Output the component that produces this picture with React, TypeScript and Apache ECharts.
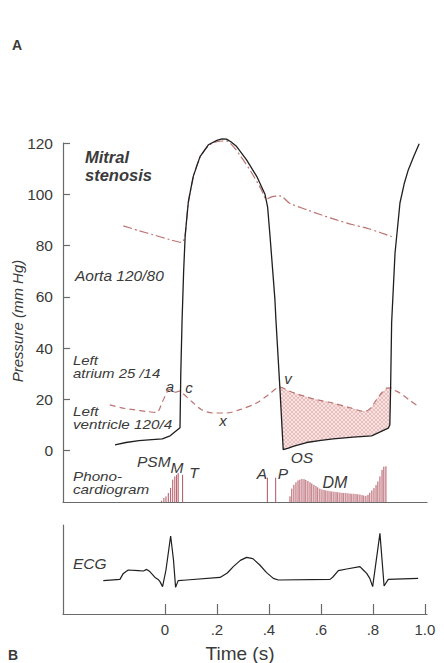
import React, { useEffect, useRef } from 'react';
import * as echarts from 'echarts';

// ---------- data (time in s, pressure in mm Hg) ----------
const pressureTicks = [0, 20, 40, 60, 80, 100, 120];
const timeTicks = [0, 0.2, 0.4, 0.6, 0.8, 1.0];
const timeTickLabels = ['0', '.2', '.4', '.6', '.8', '1.0'];

const lvPressure: number[][] = [
  [-0.192, 2.3], [-0.15, 3.2], [-0.1, 3.9], [-0.05, 4.3], [-0.01, 4.6], [0.02, 5.8], [0.045, 7.9],
  [0.058, 9], [0.061, 30], [0.066, 51], [0.072, 70], [0.078, 84], [0.09, 97], [0.109, 107],
  [0.135, 114.7], [0.167, 119.3], [0.2, 121], [0.22, 121.6], [0.237, 121.5], [0.255, 120.4],
  [0.276, 118.6], [0.314, 113.4], [0.353, 107], [0.385, 100], [0.395, 95], [0.404, 84],
  [0.417, 67], [0.423, 59], [0.427, 51], [0.442, 24.8], [0.455, 0.4], [0.475, 1.0], [0.493, 1.7],
  [0.545, 3.2], [0.6, 4], [0.647, 4.6], [0.724, 5.3], [0.795, 5.8], [0.859, 8.8], [0.865, 10],
  [0.868, 24], [0.872, 50], [0.885, 77], [0.904, 96.6], [0.92, 104], [0.936, 109.5], [0.958, 115],
  [0.978, 119.7],
];

const laPressure: number[][] = [
  [-0.212, 17.9], [-0.17, 16.8], [-0.122, 16], [-0.07, 15.3], [-0.032, 14.9], [-0.01, 19],
  [0.01, 23.2], [0.022, 24], [0.04, 22.8], [0.055, 23.2], [0.07, 22.2], [0.103, 19.2],
  [0.141, 16], [0.186, 14.7], [0.237, 14.7], [0.288, 16], [0.353, 18.6], [0.4, 22], [0.442, 24.8],
  [0.48, 23.2], [0.519, 21.8], [0.58, 20], [0.647, 18.6], [0.71, 16.8], [0.769, 15.3],
  [0.79, 16.5], [0.814, 19.9], [0.835, 22.7], [0.853, 24.4], [0.868, 24.5], [0.885, 23.5],
  [0.904, 22.5], [0.94, 19.8], [0.974, 17.3],
];

const aortaPressure: number[][] = [
  [-0.16, 87.7], [-0.1, 85.8], [-0.045, 84.2], [0.02, 82.3], [0.066, 81.2], [0.072, 82],
  [0.078, 84], [0.09, 96.5], [0.109, 106.6], [0.135, 114.3], [0.167, 118.9], [0.2, 120.5],
  [0.237, 120.8], [0.26, 119], [0.29, 115], [0.33, 109], [0.37, 102], [0.391, 98.1], [0.41, 99],
  [0.442, 99.4], [0.48, 96.5], [0.545, 94], [0.6, 92], [0.66, 90], [0.72, 88.2], [0.776, 86.8],
  [0.83, 85], [0.872, 83.5],
];

// phonocardiogram spikes: [time, top] (baseline at -20)
const phonoBaseline = -20;
const phonoPSM: number[][] = [
  [-0.013, -19.5], [-0.004, -18.4], [0.004, -17.8], [0.013, -16.5], [0.022, -14.5],
  [0.03, -11.3], [0.038, -10], [0.045, -9.4], [0.051, -8.7], [0.068, -9.4],
];
const phonoValves: number[][] = [[0.394, -10.5], [0.426, -10.5]];
const phonoDM: number[][] = [
  [0.481, -17.8], [0.488, -14.8], [0.496, -13.3], [0.504, -12.3], [0.512, -11.6], [0.519, -11.3],
  [0.527, -11.0], [0.535, -11.1], [0.542, -11.4], [0.55, -11.8], [0.558, -12.3], [0.565, -12.8],
  [0.573, -13.3], [0.581, -13.8], [0.588, -14.3], [0.596, -14.8], [0.604, -15.1], [0.612, -15.3],
  [0.619, -15.5], [0.627, -15.6], [0.635, -15.8], [0.642, -15.9], [0.65, -16.0], [0.658, -16.1],
  [0.665, -16.2], [0.673, -16.3], [0.681, -16.4], [0.688, -16.5], [0.696, -16.5], [0.704, -16.6],
  [0.712, -16.7], [0.719, -16.8], [0.727, -16.8], [0.735, -16.9], [0.742, -17.0], [0.75, -17.1],
  [0.758, -17.3], [0.765, -17.5], [0.773, -17.6], [0.781, -17.2], [0.788, -16.4], [0.796, -15.5],
  [0.804, -14.6], [0.812, -13.4], [0.819, -12.0], [0.827, -10.0], [0.835, -7.5], [0.842, -6.2],
  [0.85, -6.1],
];

// ECG (arbitrary units)
const ecgTrace: number[][] = [
  [-0.237, -0.03], [-0.173, 0.03], [-0.16, 0.33], [-0.141, 0.5], [-0.103, 0.47], [-0.083, 0.45],
  [-0.07, 0.53], [-0.058, 0.42], [-0.038, 0.13], [-0.026, 0.03], [-0.019, -0.08], [-0.009, -0.33],
  [0.004, 0.5], [0.022, 2.2], [0.033, 1.0], [0.041, -0.37], [0.051, -0.03], [0.083, 0],
  [0.212, 0.13], [0.24, 0.35], [0.263, 0.67], [0.29, 0.98], [0.314, 1.13], [0.338, 1.07],
  [0.365, 0.75], [0.39, 0.38], [0.417, 0.08], [0.436, 0], [0.635, 0.03], [0.646, 0.15],
  [0.667, 0.47], [0.699, 0.55], [0.75, 0.67], [0.763, 0.5], [0.776, 0.33], [0.788, 0.08],
  [0.799, -0.33], [0.827, 2.33], [0.843, -0.3], [0.859, 0.03], [0.974, 0.08],
];

// ---------- styling ----------
const FONT = '"Liberation Sans", Arial, Helvetica, sans-serif';
const INK = '#3a3a3a';
const AXIS = '#6a6a6a';
const RED = '#bd7371';
const PHONO = '#a8404e';

function txt(x: number, y: number, text: string, o: any = {}) {
  return {
    type: 'text',
    x,
    y,
    rotation: o.rotation || 0,
    scaleX: o.sx || 1,
    silent: true,
    style: {
      text,
      fill: o.fill || INK,
      fontFamily: FONT,
      fontSize: o.size || 15,
      lineHeight: o.lh || undefined,
      fontStyle: o.italic === false ? 'normal' : 'italic',
      fontWeight: o.bold ? 'bold' : 'normal',
      align: o.align || 'left',
      textAlign: o.align || 'left',
      verticalAlign: 'middle',
      textVerticalAlign: 'middle',
    },
  };
}

function spikeRenderer(params: any, api: any) {
  const t = api.value(0);
  const top = api.value(1);
  const p0 = api.coord([t, phonoBaseline]);
  const p1 = api.coord([t, top]);
  return {
    type: 'line',
    shape: { x1: p0[0], y1: p0[1], x2: p1[0], y2: p1[1] },
    style: { stroke: PHONO, lineWidth: 0.9 },
  };
}

function hatchPattern(): any {
  try {
    const c = document.createElement('canvas');
    c.width = 4;
    c.height = 4;
    const g = c.getContext('2d');
    if (!g) return null;
    g.fillStyle = '#f7e3e1';
    g.fillRect(0, 0, 4, 4);
    g.strokeStyle = 'rgba(205,120,120,0.5)';
    g.lineWidth = 0.7;
    g.beginPath();
    g.moveTo(0, 4); g.lineTo(4, 0);
    g.moveTo(0, 0); g.lineTo(4, 4);
    g.stroke();
    return { image: c, repeat: 'repeat', imageWidth: 4, imageHeight: 4 };
  } catch (e) {
    return null;
  }
}

const tLo = 0.442;
const tHi = 0.868;

function buildOption() {
  const upper = laPressure.filter((p) => p[0] >= tLo && p[0] <= tHi);
  const lower = lvPressure.filter((p) => p[0] >= tLo && p[0] <= tHi).reverse();
  const pattern = hatchPattern();
  const timeLabel = (v: number) => {
    const i = timeTicks.findIndex((x) => Math.abs(x - v) < 1e-6);
    return i >= 0 ? timeTickLabels[i] : '';
  };
  const fillSeries: any[] = [
    {
      type: 'custom', xAxisIndex: 0, yAxisIndex: 0, silent: true, z: 1,
      data: [[0.6, 10]],
      renderItem: (params: any, api: any) => ({
        type: 'polygon',
        shape: { points: [...upper, ...lower].map((p) => api.coord(p)) },
        style: { fill: '#f4d9d7', stroke: 'none' },
      }),
    },
  ];
  if (pattern) {
    fillSeries.push({
      type: 'custom', xAxisIndex: 0, yAxisIndex: 0, silent: true, z: 1,
      data: [[0.6, 10]],
      renderItem: (params: any, api: any) => ({
        type: 'polygon',
        shape: { points: [...upper, ...lower].map((p) => api.coord(p)) },
        style: { fill: pattern, stroke: 'none' },
      }),
    });
  }
  return {
    animation: false,
    backgroundColor: '#ffffff',
    grid: [
      { left: 63, top: 143, width: 364, height: 359, outerBoundsMode: 'none', containLabel: false },
      { left: 63, top: 525, width: 364, height: 89, outerBoundsMode: 'none', containLabel: false },
    ],
    xAxis: [
      {
        type: 'value', gridIndex: 0, min: -0.392, max: 1.008,
        axisLine: { show: true, onZero: false, lineStyle: { color: AXIS, width: 1.2 } },
        axisTick: { show: false }, axisLabel: { show: false }, splitLine: { show: false },
      },
      {
        type: 'value', gridIndex: 1, min: -0.392, max: 1.008,
        axisLine: { show: true, onZero: false, lineStyle: { color: AXIS, width: 1.2 } },
        axisTick: { show: true, inside: true, length: 10, customValues: timeTicks, lineStyle: { color: AXIS, width: 1.2 } },
        axisLabel: {
          show: true, customValues: timeTicks, formatter: timeLabel, margin: 8,
          fontSize: 15, color: INK, fontFamily: FONT,
        },
        splitLine: { show: false },
      },
    ],
    yAxis: [
      {
        type: 'value', gridIndex: 0, min: -20, max: 120, interval: 20,
        axisLine: { show: true, onZero: false, lineStyle: { color: AXIS, width: 1.2 } },
        axisTick: { show: true, inside: true, length: 7, customValues: pressureTicks, lineStyle: { color: AXIS, width: 1.2 } },
        axisLabel: {
          show: true, customValues: pressureTicks, margin: 10,
          fontSize: 15.5, color: INK, fontFamily: FONT,
        },
        splitLine: { show: false },
      },
      {
        type: 'value', gridIndex: 1, min: -1.7, max: 2.75,
        axisLine: { show: true, onZero: false, lineStyle: { color: AXIS, width: 1.2 } },
        axisTick: { show: false }, axisLabel: { show: false }, splitLine: { show: false },
      },
    ],
    series: [
      ...fillSeries,
      {
        type: 'line', xAxisIndex: 0, yAxisIndex: 0, data: aortaPressure, showSymbol: false,
        symbol: 'none', smooth: 0.3, z: 3, clip: false,
        lineStyle: { color: RED, width: 1.2, type: [9, 3, 2, 3] },
      },
      {
        type: 'line', xAxisIndex: 0, yAxisIndex: 0, data: laPressure, showSymbol: false,
        symbol: 'none', smooth: 0.3, z: 3, clip: false,
        lineStyle: { color: RED, width: 1.2, type: [6, 4] },
      },
      {
        type: 'line', xAxisIndex: 0, yAxisIndex: 0, data: lvPressure, showSymbol: false,
        symbol: 'none', z: 4, clip: false,
        lineStyle: { color: '#1f1f1f', width: 1.3 },
      },
      {
        type: 'custom', xAxisIndex: 0, yAxisIndex: 0, silent: true, z: 2,
        data: [...phonoPSM, ...phonoValves, ...phonoDM],
        encode: { x: 0, y: 1 },
        renderItem: spikeRenderer,
      },
      {
        type: 'line', xAxisIndex: 1, yAxisIndex: 1, data: ecgTrace, showSymbol: false,
        symbol: 'none', z: 4, clip: false,
        lineStyle: { color: '#1f1f1f', width: 1.2 },
      },
    ],
    graphic: [
      txt(17, 45, 'A', { italic: false, bold: true, size: 14, align: 'center' }),
      txt(13, 655, 'B', { italic: false, bold: true, size: 14, align: 'center' }),
      txt(17, 321, 'Pressure (mm Hg)', { size: 15, align: 'center', rotation: Math.PI / 2 }),
      txt(240, 653, 'Time (s)', { italic: false, size: 19, align: 'center' }),
      txt(85, 166, 'Mitral\nstenosis', { bold: true, size: 16.5, lh: 18 }),
      txt(75, 275, 'Aorta 120/80', { size: 15.5 }),
      txt(73, 366.5, 'Left\natrium 25 /14', { size: 13, lh: 13, sx: 1.15 }),
      txt(73, 418, 'Left\nventricle 120/4', { size: 12.5, lh: 12.5, sx: 1.22 }),
      txt(170, 386, 'a', { size: 15, align: 'center' }),
      txt(189, 387, 'c', { size: 15, align: 'center' }),
      txt(223, 420, 'x', { size: 15, align: 'center' }),
      txt(288, 378, 'v', { size: 15, align: 'center' }),
      txt(370, 420, 'y', { size: 15, align: 'center' }),
      txt(302, 457, 'OS', { size: 15.5, align: 'center' }),
      txt(137, 461, 'PSM', { size: 15.5 }),
      txt(177, 467, 'M', { size: 15.5, align: 'center' }),
      txt(194, 472, 'T', { size: 15.5, align: 'center' }),
      txt(73, 483, 'Phono-\ncardiogram', { size: 12.5, lh: 12.5, sx: 1.22 }),
      txt(262, 473, 'A', { size: 15.5, align: 'center' }),
      txt(283, 473, 'P', { size: 15.5, align: 'center' }),
      txt(335, 482, 'DM', { size: 16, align: 'center' }),
      txt(73, 563, 'ECG', { size: 15.5 }),
    ],
  };
}

export default function App() {
  const ref = useRef<HTMLDivElement>(null);
  useEffect(() => {
    if (!ref.current) return;
    const chart = echarts.init(ref.current, null, { renderer: 'svg' });
    chart.setOption(buildOption() as any);
    return () => chart.dispose();
  }, []);
  return (
    <div
      ref={ref}
      style={{ position: 'absolute', left: 0, top: 0, width: 444, height: 663, background: '#fff' }}
    />
  );
}
